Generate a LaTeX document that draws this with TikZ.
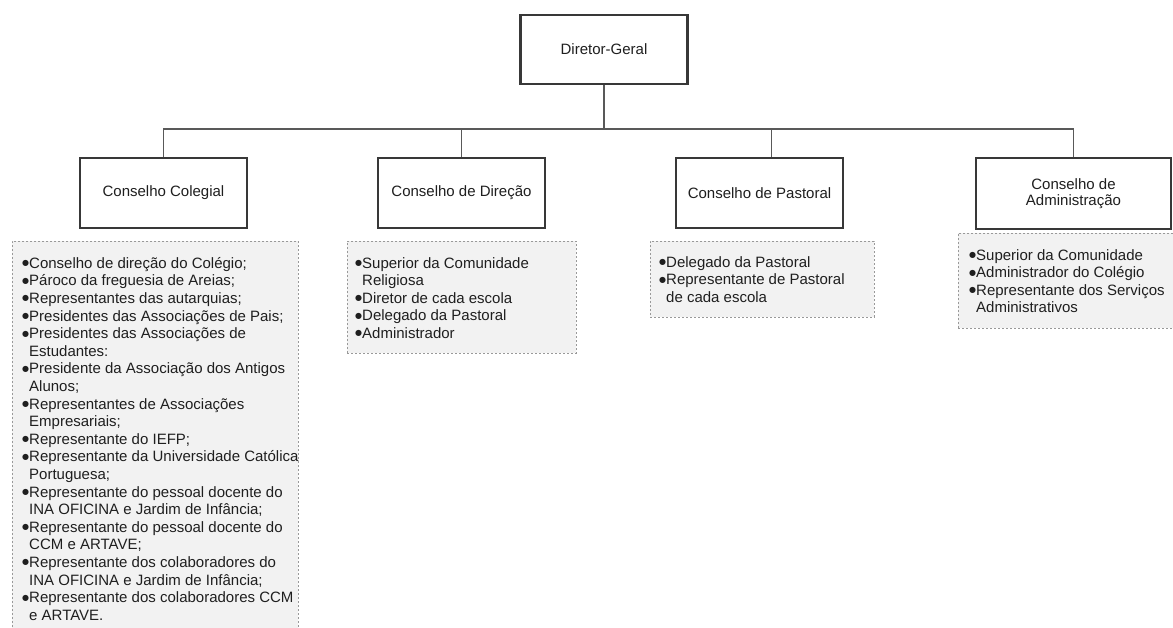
\documentclass[tikz,border=0pt]{standalone}
\usepackage{fontspec}
\setmainfont{Liberation Sans}
\newfontfamily\dvfont{DejaVu Sans}
\newcommand{\bu}{\makebox[7pt][l]{\raisebox{2.6pt}{\dvfont\fontsize{8}{10}\selectfont ●}}}
\newcommand{\ind}{\hspace*{7pt}}
\begin{document}
\begin{tikzpicture}[x=1pt,y=-1pt,
  hdr/.style={draw=black!78, line width=2.3pt, fill=white, text=black!88,
    font=\fontsize{15}{16.5}\selectfont, align=center, inner sep=0pt},
  lstbox/.style={draw=black!40, line width=0.8pt, dash pattern=on 2pt off 2pt,
    fill=black!5, anchor=north west, inner sep=0pt},
  lsttxt/.style={anchor=north west, inner sep=0pt, align=left, text=black!88,
    font=\fontsize{15}{17.6}\selectfont},
  conn/.style={draw=black!65, line width=1.1pt}]
\useasboundingbox (0,0) rectangle (1173,628);
\clip (0,0) rectangle (1173,628);

% header boxes
\node[hdr, minimum width=167pt, minimum height=69pt] (dg) at (604,49.5) {Diretor-Geral};
\node[hdr, minimum width=167pt, minimum height=70pt] (cc) at (163.5,193) {Conselho Colegial};
\node[hdr, minimum width=167pt, minimum height=70pt] (cd) at (461.5,193) {Conselho de Direção};
\node[hdr, minimum width=167pt, minimum height=70pt] (cp) at (759.5,193) {Conselho de Pastoral};
\node[hdr, minimum width=195pt, minimum height=71pt] (ca) at (1073.5,193.5) {Conselho de\\Administração};

% connectors
\coordinate (bus) at (604,129);
\draw[conn] (dg.south) -- (bus);
\draw[conn] (bus) -| (cc.north);
\draw[conn] (bus) -| (cd.north);
\draw[conn] (bus) -| ([xshift=12pt]cp.north);
\draw[conn] (bus) -| (ca.north);

% list boxes
\node[lstbox, minimum width=286pt, minimum height=400pt] (lcc) at (12,241) {};
\node[lstbox, minimum width=229pt, minimum height=112pt] (lcd) at (347,241) {};
\node[lstbox, minimum width=224pt, minimum height=76pt] (lcp) at (650,241) {};
\node[lstbox, minimum width=222pt, minimum height=95pt] (lca) at (958,233) {};

% list texts
\node[lsttxt] (tcc) at (22,253) {\rule{0pt}{15pt}\bu Conselho de direção do Colégio;\\
\bu Pároco da freguesia de Areias;\\
\bu Representantes das autarquias;\\
\bu Presidentes das Associações de Pais;\\
\bu Presidentes das Associações de\\
\ind Estudantes:\\
\bu Presidente da Associação dos Antigos\\
\ind Alunos;\\
\bu Representantes de Associações\\
\ind Empresariais;\\
\bu Representante do IEFP;\\
\bu Representante da Universidade Católica\\
\ind Portuguesa;\\
\bu Representante do pessoal docente do\\
\ind INA OFICINA e Jardim de Infância;\\
\bu Representante do pessoal docente do\\
\ind CCM e ARTAVE;\\
\bu Representante dos colaboradores do\\
\ind INA OFICINA e Jardim de Infância;\\
\bu Representante dos colaboradores CCM\\
\ind e ARTAVE.};

\node[lsttxt] (tcd) at (355,253) {\rule{0pt}{15pt}\bu Superior da Comunidade\\
\ind Religiosa\\
\bu Diretor de cada escola\\
\bu Delegado da Pastoral\\
\bu Administrador};

\node[lsttxt] (tcp) at (659,252) {\rule{0pt}{15pt}\bu Delegado da Pastoral\\
\bu Representante de Pastoral\\
\ind de cada escola};

\node[lsttxt] (tca) at (969,245) {\rule{0pt}{15pt}\bu Superior da Comunidade\\
\bu Administrador do Colégio\\
\bu Representante dos Serviços\\
\ind Administrativos};
\end{tikzpicture}
\end{document}
